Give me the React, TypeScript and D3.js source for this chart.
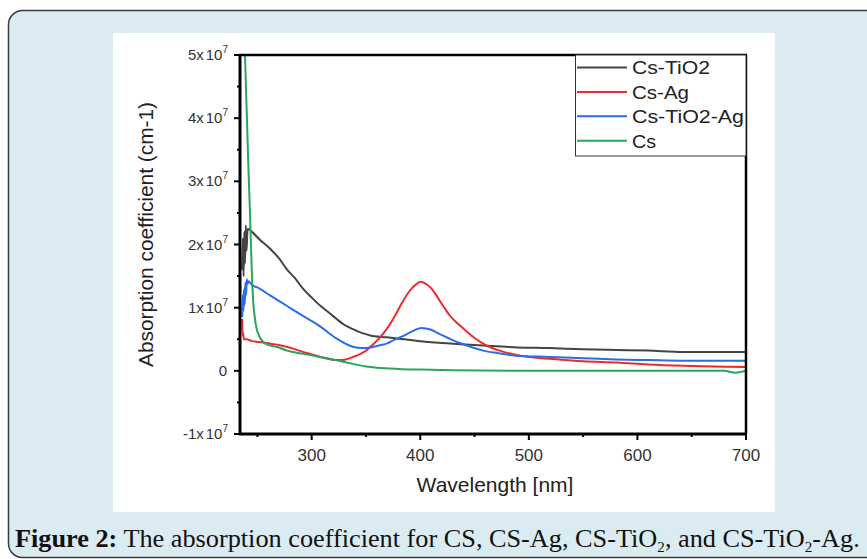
import React, { useLayoutEffect, useRef, useState } from "react";
import * as d3 from "d3";

// ---- data (absorption coefficient in units of 1e7 cm-1) ----
const seriesNames = ["Cs-TiO2", "Cs-Ag", "Cs-TiO2-Ag", "Cs"];
const seriesColors = ["#444444", "#f02a2a", "#2a6ee6", "#2aa55c"];

const tio2Wl = [236, 236.7, 237.3, 238, 238.6, 239.3, 240, 241, 245, 252, 262, 270, 277, 285, 292, 300, 308, 316, 323, 330, 338, 346, 354, 369, 385, 400, 430, 458, 490, 519, 550, 581, 610, 642, 670, 700];
const tio2Abs = [1.6, 2.1, 1.5, 2.2, 1.7, 2.3, 1.9, 2.25, 2.2, 2.08, 1.93, 1.78, 1.61, 1.46, 1.3, 1.16, 1.03, 0.92, 0.82, 0.73, 0.66, 0.6, 0.56, 0.53, 0.5, 0.47, 0.43, 0.4, 0.37, 0.36, 0.34, 0.33, 0.32, 0.3, 0.3, 0.3];

const agWl = [236, 236.5, 237, 237.5, 240, 245, 255, 262, 270, 277, 285, 292, 300, 308, 315, 320, 328, 338, 345, 350, 356, 362, 369, 376, 384, 390, 397, 400, 404, 410, 415, 421, 427, 435, 443, 450, 458, 465, 473, 489, 505, 519, 550, 581, 610, 642, 670, 700];
const agAbs = [0.82, 0.55, 0.6, 0.5, 0.5, 0.47, 0.45, 0.43, 0.41, 0.38, 0.34, 0.3, 0.26, 0.22, 0.19, 0.17, 0.17, 0.22, 0.27, 0.32, 0.41, 0.51, 0.66, 0.85, 1.1, 1.26, 1.38, 1.41, 1.39, 1.31, 1.19, 1.03, 0.88, 0.74, 0.62, 0.52, 0.43, 0.37, 0.32, 0.25, 0.21, 0.19, 0.15, 0.13, 0.1, 0.08, 0.07, 0.06];

const tio2AgWl = [236, 236.6, 237.2, 237.8, 238.4, 239, 239.6, 240.3, 241, 242, 245, 250, 262, 277, 292, 308, 323, 338, 346, 354, 362, 369, 376, 384, 392, 401, 410, 418, 427, 435, 443, 458, 472, 488, 519, 550, 581, 610, 642, 670, 700];
const tio2AgAbs = [0.85, 1.2, 0.95, 1.3, 1.05, 1.4, 1.2, 1.45, 1.38, 1.42, 1.36, 1.32, 1.19, 1.03, 0.87, 0.7, 0.51, 0.38, 0.36, 0.37, 0.4, 0.43, 0.49, 0.55, 0.62, 0.68, 0.65, 0.58, 0.51, 0.45, 0.4, 0.32, 0.28, 0.24, 0.22, 0.2, 0.18, 0.17, 0.16, 0.16, 0.16];

const csWl = [238.2, 238.6, 240.2, 241.6, 243.2, 244.8, 246.2, 247.8, 249.4, 252, 255.2, 260, 267.8, 277.3, 292, 307.7, 320, 338, 350, 360, 380, 400, 430, 500, 600, 680, 690, 700];
const csAbs = [5.3, 5.0, 4.1, 3.3, 2.5, 1.61, 1.09, 0.82, 0.66, 0.54, 0.46, 0.41, 0.38, 0.32, 0.27, 0.22, 0.18, 0.11, 0.07, 0.05, 0.03, 0.02, 0.01, 0.0, 0.0, 0.0, -0.03, 0.0];

const seriesWl = [tio2Wl, agWl, tio2AgWl, csWl];
const seriesAbs = [tio2Abs, agAbs, tio2AgAbs, csAbs];

const xTicks = [300, 400, 500, 600, 700];
const xMinor = [250, 350, 450, 550, 650];
const yTicks = [-1, 0, 1, 2, 3, 4, 5];
const yMinor = [-0.5, 0.5, 1.5, 2.5, 3.5, 4.5];
const yTickMantissa = ["-1", "0", "1", "2", "3", "4", "5"];

const xLabel = "Wavelength [nm]";
const yLabel = "Absorption coefficient (cm-1)";

export default function App() {
  const W = 867, H = 559;
  const left = 240, right = 746, top = 55, bottom = 434;
  const x = d3.scaleLinear().domain([234, 700]).range([left, right]);
  const y = d3.scaleLinear().domain([-1, 5]).range([bottom, top]);

  const capRef = useRef<SVGTextElement>(null);
  const [capScale, setCapScale] = useState(1);
  useLayoutEffect(() => {
    if (capRef.current) {
      const w = capRef.current.getBBox().width;
      if (w > 0) setCapScale(845 / w);
    }
  }, []);

  const line = d3
    .line<[number, number]>()
    .x((d) => x(d[0]))
    .y((d) => y(d[1]))
    .curve(d3.curveMonotoneX);

  const font = "'Liberation Sans', Arial, sans-serif";

  return (
    <svg width={W} height={H} style={{ position: "absolute", left: 0, top: 0, background: "#fff" }}>
      <rect x={8.5} y={10.5} width={900} height={547} rx={14} fill="#daecf2" stroke="#3a3a3a" strokeWidth={1.5} />
      <rect x={113} y={33} width={662} height={479} fill="#ffffff" />

      <defs>
        <clipPath id="plotClip">
          <rect x={left} y={top} width={right - left} height={bottom - top} />
        </clipPath>
      </defs>

      {/* series */}
      <g clipPath="url(#plotClip)">
        {seriesNames.map((name, i) => {
          const pts = seriesWl[i].map((w, j) => [w, seriesAbs[i][j]] as [number, number]);
          return (
            <path key={name} d={line(pts) || ""} fill="none" stroke={seriesColors[i]} strokeWidth={2} strokeLinejoin="round" />
          );
        })}
      </g>

      {/* frame */}
      <line x1={left - 1} x2={right + 1} y1={top} y2={top} stroke="#000" strokeWidth={2.5} />
      <line x1={right} x2={right} y1={top} y2={bottom} stroke="#000" strokeWidth={2.5} />
      <line x1={left} x2={left} y1={top - 1} y2={bottom + 1} stroke="#000" strokeWidth={3} />
      <line x1={left - 1} x2={right + 1} y1={bottom} y2={bottom} stroke="#000" strokeWidth={3} />

      {/* y ticks */}
      {yTicks.map((t, i) => (
        <g key={"y" + t}>
          <line x1={left - 6} x2={left} y1={y(t)} y2={y(t)} stroke="#000" strokeWidth={2} />
          {t === 0 ? (
            <text x={227} y={y(t) + 5} textAnchor="end" fontFamily={font} fontSize={15} fill="#333">0</text>
          ) : (
            <text x={228} y={y(t) + 5} textAnchor="end" fontFamily={font} fontSize={15} fill="#333">
              <tspan>{yTickMantissa[i] + "x"}</tspan>
              <tspan dx={2}>10</tspan>
              <tspan dy={-7} fontSize={10}>7</tspan>
            </text>
          )}
        </g>
      ))}
      {yMinor.map((t) => (
        <line key={"ym" + t} x1={left - 3} x2={left} y1={y(t)} y2={y(t)} stroke="#000" strokeWidth={2} />
      ))}

      {/* x ticks */}
      {xTicks.map((t) => (
        <g key={"x" + t}>
          <line x1={x(t)} x2={x(t)} y1={bottom} y2={bottom + 6} stroke="#000" strokeWidth={2} />
          <text x={x(t)} y={461} textAnchor="middle" fontFamily={font} fontSize={17} fill="#333">{t}</text>
        </g>
      ))}
      {xMinor.map((t) => (
        <line key={"xm" + t} x1={x(t)} x2={x(t)} y1={bottom} y2={bottom + 3} stroke="#000" strokeWidth={2} />
      ))}

      {/* axis titles */}
      <text x={495} y={492} textAnchor="middle" fontFamily={font} fontSize={21} fill="#222">{xLabel}</text>
      <text transform="translate(153,234.5) rotate(-90)" textAnchor="middle" fontFamily={font} fontSize={20} fill="#222" textLength={265} lengthAdjust="spacingAndGlyphs">{yLabel}</text>

      {/* legend */}
      <rect x={575.5} y={55} width={170.5} height={101} fill="#fff" stroke="#333" strokeWidth={1} />
      {seriesNames.map((name, i) => {
        const cy = 67.5 + i * 24.4;
        const widths = [78, 57, 112, 24];
        return (
          <g key={"lg" + name}>
            <line x1={577} x2={627} y1={cy} y2={cy} stroke={seriesColors[i]} strokeWidth={2} />
            <text x={632} y={cy + 6.8} fontFamily={font} fontSize={19} fill="#222" textLength={widths[i]} lengthAdjust="spacingAndGlyphs">{name}</text>
          </g>
        );
      })}

      {/* caption */}
      <g transform={`translate(15,547) scale(${capScale},1)`}>
        <text ref={capRef} x={0} y={0} fontFamily="'Liberation Serif', 'Times New Roman', serif" fontSize={26} fill="#111">
          <tspan fontWeight="bold">Figure 2:</tspan>
          <tspan> The absorption coefficient for CS, CS-Ag, CS-TiO</tspan>
          <tspan fontSize={15} dy={5}>2</tspan>
          <tspan dy={-5}>, and CS-TiO</tspan>
          <tspan fontSize={15} dy={5}>2</tspan>
          <tspan dy={-5}>-Ag.</tspan>
        </text>
      </g>
    </svg>
  );
}
